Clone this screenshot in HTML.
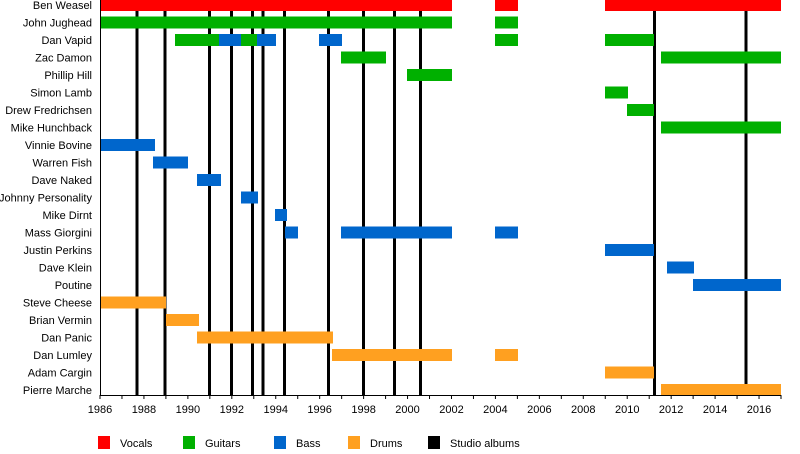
<!DOCTYPE html>
<html><head><meta charset="utf-8"><style>html,body{margin:0;padding:0;background:#fff}svg{display:block}text{font-family:"Liberation Sans",sans-serif;font-size:11px;fill:#000}</style></head>
<body>
<svg width="800" height="454" viewBox="0 0 800 454" xmlns="http://www.w3.org/2000/svg">
<g id="lines"></g>
<g id="bars"></g>
<g id="labels" text-anchor="end"></g>
<g id="axis"></g>
<g>
<rect x="98" y="436" width="12" height="13" fill="#ff0000"/><text x="120" y="447">Vocals</text>
<rect x="183" y="436" width="12" height="13" fill="#00b000"/><text x="205" y="447">Guitars</text>
<rect x="274" y="436" width="12" height="13" fill="#0066cc"/><text x="296" y="447">Bass</text>
<rect x="348" y="436" width="12" height="13" fill="#ffa020"/><text x="370" y="447">Drums</text>
<rect x="428" y="436" width="12" height="13" fill="#000"/><text x="450" y="447">Studio albums</text>
</g>
</svg>
<script>
const R='#ff0000',G='#00b000',B='#0066cc',O='#ffa020';
const rows=[
["Ben Weasel",[[100,452,R],[495,518,R],[605,781,R]]],
["John Jughead",[[100,452,G],[495,518,G]]],
["Dan Vapid",[[175,219,G],[219,241,B],[241,257,G],[257,276,B],[319,342,B],[495,518,G],[605,654,G]]],
["Zac Damon",[[341,386,G],[661,781,G]]],
["Phillip Hill",[[407,452,G]]],
["Simon Lamb",[[605,628,G]]],
["Drew Fredrichsen",[[627,654,G]]],
["Mike Hunchback",[[661,781,G]]],
["Vinnie Bovine",[[100,155,B]]],
["Warren Fish",[[153,188,B]]],
["Dave Naked",[[197,221,B]]],
["Johnny Personality",[[241,258,B]]],
["Mike Dirnt",[[275,287,B]]],
["Mass Giorgini",[[285,298,B],[341,452,B],[495,518,B]]],
["Justin Perkins",[[605,654,B]]],
["Dave Klein",[[667,694,B]]],
["Poutine",[[693,781,B]]],
["Steve Cheese",[[100,166,O]]],
["Brian Vermin",[[166,199,O]]],
["Dan Panic",[[197,333,O]]],
["Dan Lumley",[[332,452,O],[495,518,O]]],
["Adam Cargin",[[605,654,O]]],
["Pierre Marche",[[661,781,O]]]];
const ns='http://www.w3.org/2000/svg';
function el(t,a,p,txt){const e=document.createElementNS(ns,t);for(const k in a)e.setAttribute(k,a[k]);if(txt)e.textContent=txt;document.getElementById(p).appendChild(e);return e;}
rows.forEach((r,i)=>{const top=-1+i*17.5;
 el('text',{x:92,y:top+10},'labels',r[0]);
 r[1].forEach(b=>el('rect',{x:b[0],y:top,width:b[1]-b[0],height:12,fill:b[2]},'bars'));});
[137,165,209.5,231.5,252.5,263,284.5,328.5,363.5,394.5,420.5,654.5,746].forEach(x=>el('rect',{x:x-1.5,y:11,width:3,height:384},'lines'));
el('line',{x1:100.5,y1:0,x2:100.5,y2:396,stroke:'#000','stroke-width':1},'axis');
el('line',{x1:100,y1:395.5,x2:781,y2:395.5,stroke:'#000','stroke-width':1},'axis');
const px=681/31;
for(let y=0;y<=31;y++){const x=100+y*px;
 el('line',{x1:x,y1:395,x2:x,y2:399,stroke:'#000','stroke-width':1},'axis');
 if(y%2==0&&y<31) el('text',{x:x,y:413,'text-anchor':'middle'},'axis',String(1986+y));}
</script>
</body></html>
